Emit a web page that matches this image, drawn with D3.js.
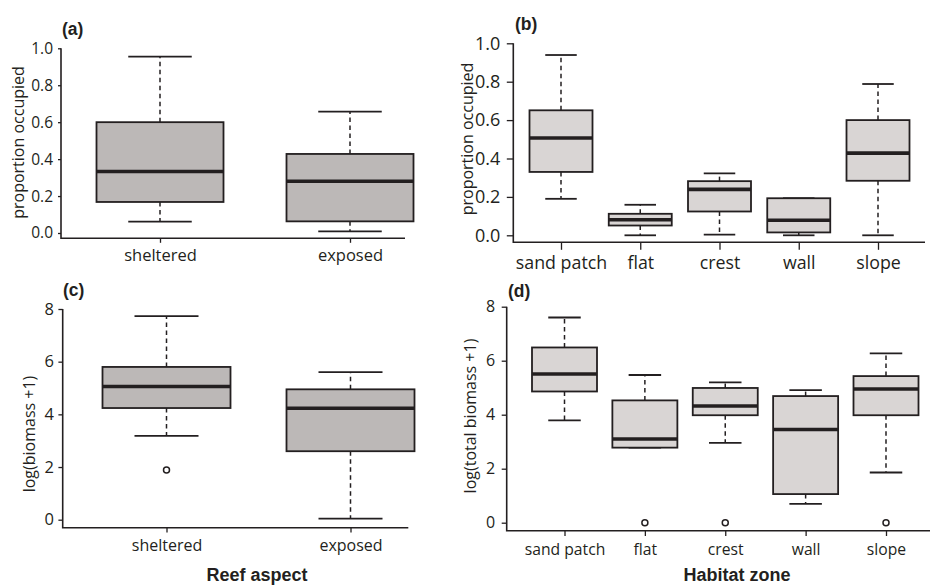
<html>
<head>
<script src="https://d3js.org/d3.v7.min.js"></script>
<style>
    body { margin: 0; background: #fff; }
    svg text { font-family: "Open Sans", sans-serif; fill: #231f20; }
    svg .bold { font-family: "Liberation Sans", Arial, sans-serif; font-weight: bold; }
</style>
</head>
<body>
<svg id="fig" width="930" height="585"></svg>
<script>

    // categories
    var aspect = ['sheltered', 'exposed'];
    var habitat = ['sand patch', 'flat', 'crest', 'wall', 'slope'];

    // box stats per category: [lower whisker, Q1, median, Q3, upper whisker]
    var occAspect = [
        [0.062, 0.168, 0.333, 0.600, 0.955],
        [0.009, 0.063, 0.280, 0.428, 0.657]
    ];
    var occHabitat = [
        [0.190, 0.330, 0.507, 0.651, 0.939],
        [0.000, 0.051, 0.081, 0.112, 0.159],
        [0.003, 0.124, 0.239, 0.282, 0.323],
        [0.000, 0.015, 0.078, 0.193, 0.193],
        [0.000, 0.284, 0.428, 0.600, 0.788]
    ];
    var bioAspect = [
        [3.18, 4.24, 5.06, 5.80, 7.73],
        [0.04, 2.60, 4.23, 4.95, 5.60]
    ];
    var bioHabitat = [
        [3.79, 4.86, 5.51, 6.49, 7.60],
        [2.78, 2.78, 3.10, 4.53, 5.47],
        [2.96, 3.98, 4.32, 4.99, 5.20],
        [0.70, 1.06, 3.45, 4.69, 4.91],
        [1.86, 3.98, 4.95, 5.43, 6.27]
    ];
    // outliers
    var bioAspectOut = [[1.89], []];
    var bioHabitatOut = [[], [0], [0], [], [0]];
    var occAspectOut = [[], []];
    var occHabitatOut = [[], [], [], [], []];

    // tick values
    var propTicks = [0, 0.2, 0.4, 0.6, 0.8, 1.0];
    var bioTicks = [0, 2, 4, 6, 8];

    var ink = '#231f20';
    var svg = d3.select('#fig');

    function panel(p) {
        var g = svg.append('g');
        var x = d3.scalePoint().domain(p.cats).range(p.cx);
        var y = d3.scaleLinear()
            .domain([p.ticks[0], p.ticks[p.ticks.length - 1]])
            .range(p.yr);

        // y axis
        var ya = g.append('g')
            .attr('transform', 'translate(' + p.ax + ',0)')
            .call(d3.axisLeft(y).tickValues(p.ticks).tickFormat(p.fmt)
                .tickSize(p.ytk).tickPadding(p.ypad));
        ya.select('.domain').remove();
        ya.selectAll('line').attr('stroke', ink).attr('stroke-width', 1.3);
        ya.selectAll('text').style('font-size', p.tfs + 'px');

        // x axis
        var xa = g.append('g')
            .attr('transform', 'translate(0,' + p.ay + ')')
            .call(d3.axisBottom(x).tickSize(p.xtk));
        xa.select('.domain').remove();
        xa.selectAll('line').attr('stroke', ink).attr('stroke-width', 1.3);
        xa.selectAll('text')
            .style('font-size', p.fs + 'px')
            .attr('dy', null)
            .attr('y', p.xlab);

        // L frame
        g.append('path')
            .attr('d', 'M' + p.ax + ',' + y(p.ticks[p.ticks.length - 1]) +
                'V' + p.ay + 'H' + p.axEnd)
            .attr('fill', 'none')
            .attr('stroke', ink)
            .attr('stroke-width', 1.6);

        var w = p.bw;
        var box = g.selectAll('.box')
            .data(p.stats)
            .enter().append('g')
            .attr('class', 'box')
            .attr('transform', function(d, i) { return 'translate(' + x(p.cats[i]) + ',0)'; });

        // whiskers
        box.append('line')
            .attr('y1', function(d) { return y(d[3]); })
            .attr('y2', function(d) { return y(d[4]); });
        box.append('line')
            .attr('y1', function(d) { return y(d[1]); })
            .attr('y2', function(d) { return y(d[0]); });
        box.selectAll('line')
            .attr('stroke', ink)
            .attr('stroke-width', 1.5)
            .attr('stroke-dasharray', '4.5,3.5');

        // caps
        box.append('line')
            .attr('x1', -w / 4).attr('x2', w / 4)
            .attr('y1', function(d) { return y(d[4]); })
            .attr('y2', function(d) { return y(d[4]); })
            .attr('stroke', ink).attr('stroke-width', 1.8);
        box.append('line')
            .attr('x1', -w / 4).attr('x2', w / 4)
            .attr('y1', function(d) { return y(d[0]); })
            .attr('y2', function(d) { return y(d[0]); })
            .attr('stroke', ink).attr('stroke-width', 1.8);

        box.append('rect')
            .attr('x', -w / 2)
            .attr('width', w)
            .attr('y', function(d) { return y(d[3]); })
            .attr('height', function(d) { return y(d[1]) - y(d[3]); })
            .attr('fill', p.fill)
            .attr('stroke', ink)
            .attr('stroke-width', 1.8);

        box.append('line')
            .attr('x1', -w / 2).attr('x2', w / 2)
            .attr('y1', function(d) { return y(d[2]); })
            .attr('y2', function(d) { return y(d[2]); })
            .attr('stroke', ink).attr('stroke-width', 3.6);

        // outliers
        box.each(function(d, i) {
            d3.select(this).selectAll('circle')
                .data(p.out[i])
                .enter().append('circle')
                .attr('cy', function(v) { return y(v); })
                .attr('r', 3)
                .attr('fill', '#fff')
                .attr('stroke', ink)
                .attr('stroke-width', 1.5);
        });

        // y title
        g.append('text')
            .attr('transform', 'translate(' + p.yt[0] + ',' + p.yt[1] + ') rotate(-90)')
            .attr('text-anchor', 'middle')
            .style('font-size', p.yfs + 'px')
            .text(p.ytitle);

        // panel tag
        g.append('text')
            .attr('class', 'bold')
            .attr('x', p.tag[0]).attr('y', p.tag[1])
            .style('font-size', '17.5px')
            .text(p.name);
    }

    var f1 = d3.format('.1f');

    panel({ name: '(a)', cats: aspect, stats: occAspect, out: occAspectOut, ticks: propTicks, fmt: f1,
        cx: [160, 350], yr: [233, 48.3], ax: 61, ay: 238.3, axEnd: 405, bw: 127,
        ytk: 3, ypad: 5, xtk: 4.5, xlab: 22.7, fs: 16.5, tfs: 15.5, fill: '#bcb8b7',
        ytitle: 'proportion occupied', yt: [24, 142.5], yfs: 16, tag: [62, 35] });

    panel({ name: '(b)', cats: habitat, stats: occHabitat, out: occHabitatOut, ticks: propTicks, fmt: f1,
        cx: [561, 878], yr: [235.3, 43.3], ax: 513.3, ay: 242.3, axEnd: 925, bw: 63,
        ytk: 6.5, ypad: 6.5, xtk: 7.5, xlab: 26.7, fs: 17.8, tfs: 18, fill: '#d9d5d4',
        ytitle: 'proportion occupied', yt: [472.5, 139], yfs: 16, tag: [515, 30] });

    panel({ name: '(c)', cats: aspect, stats: bioAspect, out: bioAspectOut, ticks: bioTicks, fmt: d3.format('d'),
        cx: [166.5, 350.5], yr: [519.7, 309], ax: 62.7, ay: 527.7, axEnd: 408.3, bw: 128,
        ytk: 4.3, ypad: 4.5, xtk: 4.7, xlab: 23, fs: 16, tfs: 16.5, fill: '#bcb8b7',
        ytitle: 'log(biomass +1)', yt: [35, 434], yfs: 16, tag: [63, 296] });

    panel({ name: '(d)', cats: habitat, stats: bioHabitat, out: bioHabitatOut, ticks: bioTicks, fmt: d3.format('d'),
        cx: [564.5, 886], yr: [522.7, 306.7], ax: 506.7, ay: 530.7, axEnd: 930, bw: 65,
        ytk: 5, ypad: 6.5, xtk: 5.3, xlab: 24.3, fs: 15.7, tfs: 16, fill: '#d9d5d4',
        ytitle: 'log(total biomass +1)', yt: [475.5, 416], yfs: 16, tag: [508, 297] });

    // x titles
    svg.append('text').attr('class', 'bold')
        .attr('x', 257).attr('y', 581)
        .attr('text-anchor', 'middle')
        .style('font-size', '18px')
        .text('Reef aspect');
    svg.append('text').attr('class', 'bold')
        .attr('x', 737).attr('y', 581)
        .attr('text-anchor', 'middle')
        .style('font-size', '18px')
        .text('Habitat zone');

</script>
</body>
</html>
